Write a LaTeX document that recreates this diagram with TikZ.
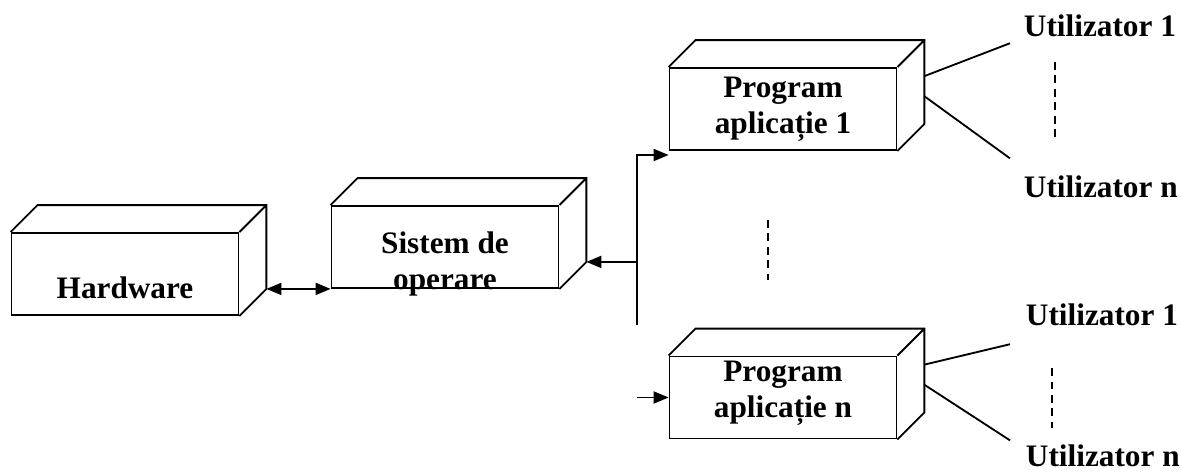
\documentclass[tikz,border=0pt]{standalone}
\usepackage{fontspec}
\setmainfont{Liberation Serif}
\usetikzlibrary{positioning,calc,arrows.meta}
\newcommand\cutie[4][0pt]{
\node[cutief,label={[yshift=#1,align=center]center:{#4}}] (#2) at (#3) {};
\draw[cutiel] (#2.north west) -- ++(27,27) coordinate (#2-nw)
  -- ($(#2.north east)+(27,27)$) coordinate (#2-ne)
  -- ($(#2.south east)+(27,27)$) coordinate (#2-se)
  -- (#2.south east) (#2.north east) -- (#2-ne);
}
\begin{document}
\begin{tikzpicture}[x=0.02cm,y=0.02cm,line width=1.05pt,
font=\fontsize{17.8}{20.5}\selectfont\bfseries,
>={Triangle[length=0.3cm,width=0.24cm]},
cutief/.style={draw,minimum width=4.54cm,minimum height=1.64cm,inner sep=0pt},
cutiel/.style={line join=miter},
puncte/.style={dash pattern=on 0.16cm off 0.11cm},
util/.style={inner sep=0pt,anchor=base west},
]
\useasboundingbox (0,0) rectangle (1181,471);
\cutie[-0.27cm]{HW}{125,197}{Hardware}
\cutie[-0.33cm]{SO}{445,224}{Sistem de\\operare}
\cutie{P1}{783,362}{Program\\aplicație 1}
\cutie[0.09cm]{Pn}{783,73.5}{Program\\aplicație n}
\node[util] (U1a) at (1023,435) {Utilizator 1};
\node[util] (Una) at (1023,274) {Utilizator n};
\node[util] (U1b) at (1025,146) {Utilizator 1};
\node[util] (Unb) at (1025,5) {Utilizator n};
\coordinate (bussus) at (637,316);
\coordinate (busjos) at (637,146);
\draw[<->] (HW-se) -- (HW-se -| SO.west);
\draw[->] (busjos) -- (bussus) -- (bussus -| P1.west);
\draw[->] (busjos |- SO-se) -- (SO-se);
\draw[->] (busjos |- Pn.west) -- (Pn.west);
\draw ($(P1-ne)!0.43!(P1-se)$) -- ($(U1a.south west)+(-13,-6)$);
\draw ($(P1-ne)!0.67!(P1-se)$) -- ($(Una.north west)+(-13,16)$);
\draw ($(Pn-ne)!0.43!(Pn-se)$) -- ($(U1b.south west)+(-15,-18)$);
\draw ($(Pn-ne)!0.67!(Pn-se)$) -- ($(Unb.north west)+(-15,3)$);
\draw[puncte] (1055,409) -- (1055,331);
\draw[puncte] (1052,103) -- (1052,43);
\draw[puncte] (768,251) -- (768,191);
\end{tikzpicture}
\end{document}
